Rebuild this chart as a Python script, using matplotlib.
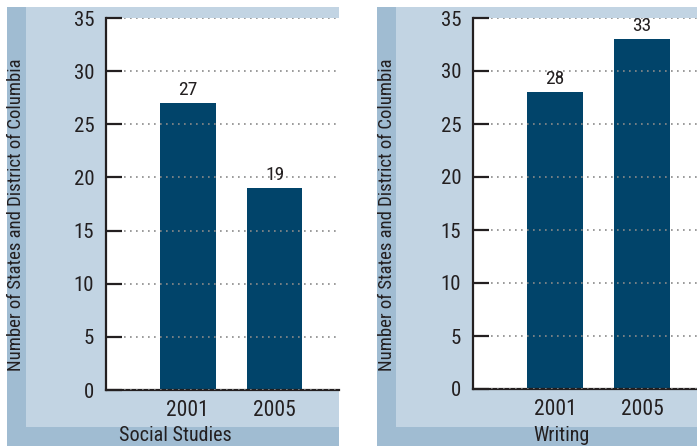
import matplotlib
matplotlib.use("Agg")
import matplotlib.pyplot as plt
import matplotlib.patches as mpatches

plt.rcParams["font.family"] = ["Roboto Condensed", "DejaVu Sans"]

# ── data ─────────────────────────────────────────────────────────────────────
years = ["2001", "2005"]
social_studies = [27, 19]
writing = [28, 33]
panel_titles = ["Social Studies", "Writing"]
ylabel = "Number of States and District of Columbia"
yticks = [0, 5, 10, 15, 20, 25, 30, 35]

# ── colours ──────────────────────────────────────────────────────────────────
DARK_FRAME = "#a0bcd2"
LIGHT_FRAME = "#c2d4e3"
BAR = "#01446a"
INK = "#231f20"

W, H = 697, 446
fig = plt.figure(figsize=(W / 100, H / 100), dpi=100)


def px_rect(x0, y0, x1, y1):
    """pixel box (top-left origin) -> figure fraction [l, b, w, h]"""
    return [x0 / W, 1 - y1 / H, (x1 - x0) / W, (y1 - y0) / H]


def frame(x0, x1, y0, y1, colour):
    l, b, w, h = px_rect(x0, y0, x1, y1)
    fig.add_artist(mpatches.Rectangle((l, b), w, h, transform=fig.transFigure,
                                      facecolor=colour, edgecolor="none", zorder=0))


def panel(values, title, outer, inner, axbox, xlim, label_x, title_x):
    frame(outer[0], outer[1], 7, 446, DARK_FRAME)
    frame(inner[0], inner[1], 7, 427, LIGHT_FRAME)

    ax = fig.add_axes(px_rect(*axbox))
    ax.set_facecolor("white")
    xs = list(range(len(values)))
    ax.bar(xs, values, width=0.64, color=BAR, zorder=1)
    for x, v in zip(xs, values):
        ax.text(x, v + 0.35, str(v), ha="center", va="bottom",
                fontsize=14, color=INK, zorder=5)

    ax.set_xlim(*xlim)
    ax.set_ylim(0, 35)
    ax.set_yticks(yticks)
    ax.set_xticks(xs)
    ax.set_xticklabels(years)
    ax.set_axisbelow(False)
    ax.yaxis.grid(True, color="#8a8a8a", linewidth=1.2, linestyle=(0, (1, 2.6)))
    ax.xaxis.grid(False)

    for s in ("top", "right"):
        ax.spines[s].set_visible(False)
    for s in ("left", "bottom"):
        ax.spines[s].set_color(INK)
        ax.spines[s].set_linewidth(1.6)
    ax.tick_params(axis="y", direction="in", length=11.5, width=1.6,
                   color=INK, labelcolor=INK, labelsize=15, pad=8.5)
    ax.tick_params(axis="x", length=0, labelcolor=INK, labelsize=15.5, pad=7)

    fig.text(label_x / W, 1 - 215 / H, ylabel, rotation=90, ha="center",
             va="center", fontsize=13.5, color=INK)
    fig.text(title_x / W, 1 - 435.5 / H, title, ha="center", va="center",
             fontsize=14.5, color=INK)
    return ax


panel(social_studies, panel_titles[0], (7, 339), (26, 339),
      (106, 18, 339, 390), (-0.94, 1.74), 16.5, 175.5)
panel(writing, panel_titles[1], (377, 697), (396, 697),
      (473, 18, 697, 389), (-0.943, 1.632), 387, 561)

fig.savefig("out.png", dpi=100)
